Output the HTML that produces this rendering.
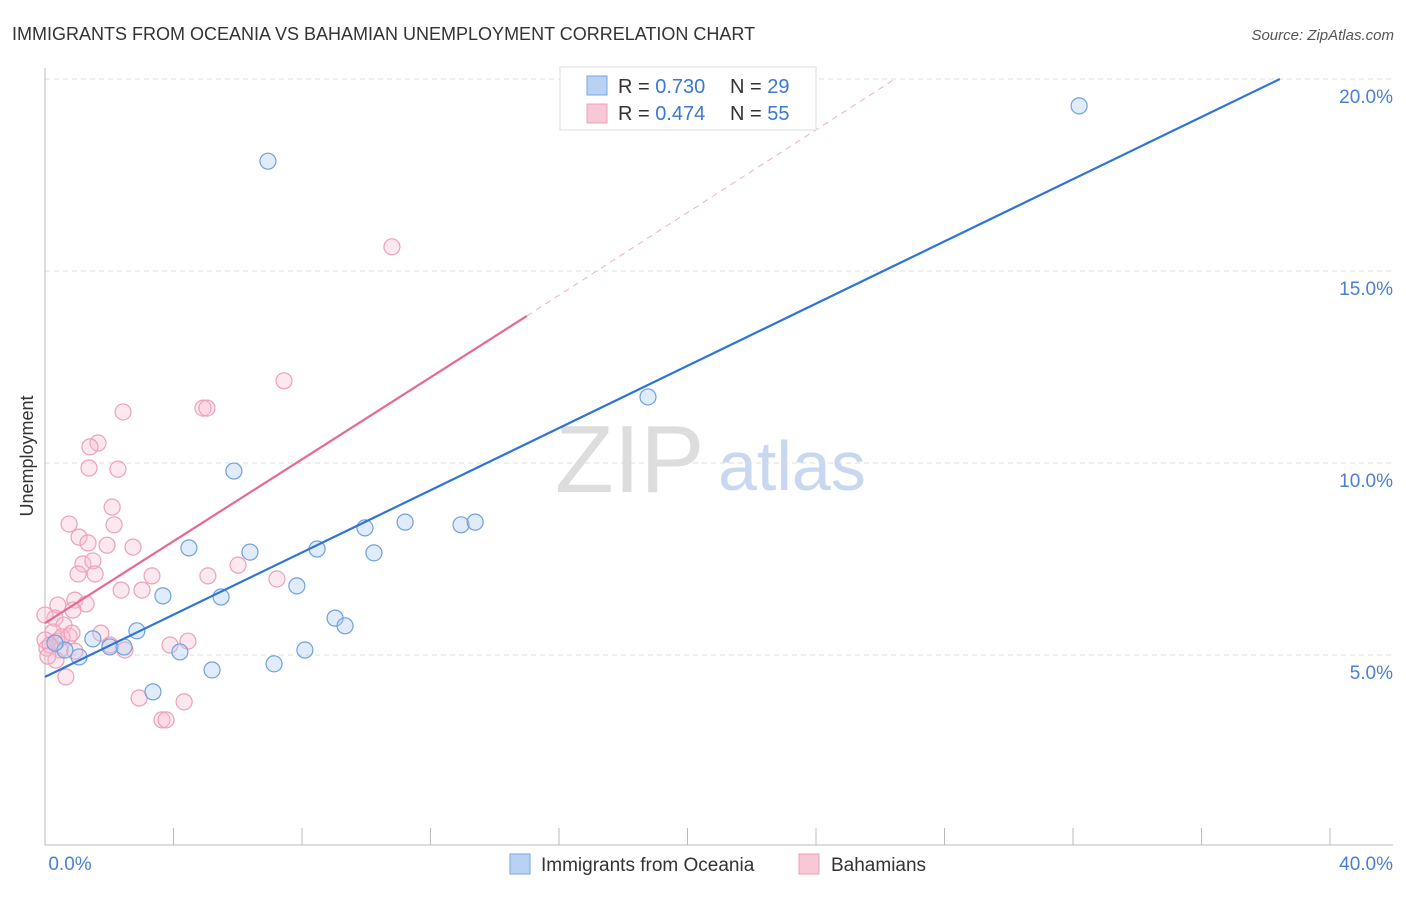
<!DOCTYPE html>
<html><head><meta charset="utf-8"><style>
body{margin:0;background:#fff;font-family:"Liberation Sans",sans-serif;}
svg text{font-family:"Liberation Sans",sans-serif;}
</style></head><body>
<svg id="chart" width="1406" height="892" xmlns="http://www.w3.org/2000/svg">
<text x="12" y="40" font-size="18" fill="#333">IMMIGRANTS FROM OCEANIA VS BAHAMIAN UNEMPLOYMENT CORRELATION CHART</text>
<text x="1394" y="40" font-size="15" fill="#555" font-style="italic" text-anchor="end">Source: ZipAtlas.com</text>
<text x="33" y="456" font-size="18" fill="#333" text-anchor="middle" transform="rotate(-90 33 456)">Unemployment</text>
<text x="555" y="492" font-size="96" fill="#ddd" font-family="Liberation Serif">ZIP</text>
<text x="718" y="490" font-size="70" fill="#c8d8f0">atlas</text>
<g id="grid"></g><g id="axes"></g><g id="pts"></g><g id="lines"></g>
<g>
<rect x="560" y="67" width="256" height="63" fill="#fff" stroke="#ddd"/>
<rect x="587" y="76" width="20" height="19" fill="#b8d2f4" stroke="#7aa6e0"/>
<rect x="587" y="104" width="20" height="19" fill="#f8c8d6" stroke="#eea0b8"/>
<text x="618" y="93" font-size="20" fill="#333">R = <tspan fill="#3a78d4">0.730</tspan></text>
<text x="730" y="93" font-size="20" fill="#333">N = <tspan fill="#3a78d4">29</tspan></text>
<text x="618" y="120" font-size="20" fill="#333">R = <tspan fill="#3a78d4">0.474</tspan></text>
<text x="730" y="120" font-size="20" fill="#333">N = <tspan fill="#3a78d4">55</tspan></text>
</g>
<g>
<rect x="510" y="854" width="20" height="20" fill="#b8d2f4" stroke="#7aa6e0"/>
<text x="541" y="871" font-size="19" fill="#333">Immigrants from Oceania</text>
<rect x="799" y="854" width="20" height="20" fill="#f8c8d6" stroke="#eea0b8"/>
<text x="831" y="871" font-size="19" fill="#333">Bahamians</text>
</g>
</svg>
<script>
const yTicks=[5,10,15,20];
const xTickLabels=["0.0%","40.0%"];
const blueX=[32.19,6.94,18.77,5.88,4.48,6.38,8.47,9.96,11.21,12.95,13.39,10.24,7.84,3.67,5.48,9.03,9.34,2.86,1.49,2.02,2.46,4.20,8.09,1.06,0.62,0.31,5.20,7.13,3.36];
const blueY=[19.30,17.86,11.72,9.79,7.79,7.68,7.76,8.31,8.46,8.39,8.46,7.66,6.80,6.54,6.51,5.96,5.76,5.63,5.42,5.21,5.21,5.08,5.13,4.95,5.13,5.31,4.61,4.77,4.04];
const pinkX=[10.80,7.44,2.43,4.92,5.04,1.65,1.40,1.37,2.27,2.09,0.75,2.15,1.06,1.34,1.93,2.74,1.18,1.49,1.03,1.56,3.33,5.07,6.01,7.22,2.37,3.02,0.93,1.28,0.40,0.87,0.31,0,0.59,0.25,0.75,0,1.74,0.37,0.06,0.47,2.02,2.49,3.89,4.45,0.93,0.34,0.65,2.93,4.33,3.64,3.77,0.16,0.53,0.09,0.84];
const pinkY=[15.63,12.14,11.33,11.43,11.43,10.52,10.42,9.87,9.84,8.85,8.41,8.39,8.07,7.92,7.86,7.81,7.37,7.45,7.11,7.11,7.06,7.06,7.34,6.98,6.69,6.69,6.43,6.33,6.30,6.17,5.96,6.04,5.78,5.60,5.49,5.39,5.57,5.36,5.18,5.13,5.26,5.13,5.26,5.36,5.10,4.87,4.43,3.88,3.78,3.31,3.31,5.26,5.47,4.97,5.57];
const blueLine=[[0,4.43],[38.44,20]];
const pinkLine=[[0,5.83],[15.0,13.83]];
const pinkDash=[[15.0,13.83],[26.46,20]];
const NS="http://www.w3.org/2000/svg";
const X=v=>45+v*32.125, Y=v=>847-v*38.4;
function mk(t,a,p){const e=document.createElementNS(NS,t);for(const k in a)e.setAttribute(k,a[k]);document.getElementById(p).appendChild(e);return e;}
yTicks.forEach(t=>{
 const l=mk('line',{x1:45,x2:1393,y1:Y(t),y2:Y(t),stroke:'#ddd','stroke-dasharray':'5,4'},'grid');
 
 
 const tx=mk('text',{x:1393,y:Y(t)+24,'font-size':19,fill:'#4a7fd4','text-anchor':'end'},'grid');
 tx.textContent=t.toFixed(1)+'%';
 
 
});
const xa=mk('line',{x1:45,x2:1393,y1:845,y2:845,stroke:'#bbb'},'axes');


const ya=mk('line',{x1:45,x2:45,y1:68,y2:845,stroke:'#bbb'},'axes');


for(let i=0;i<=10;i++){const t=mk('line',{x1:X(i*4),x2:X(i*4),y1:828,y2:845,stroke:'#bbb'},'axes');
 
 }
[[0,70,'start'],[40,1393,'end']].forEach((d,i)=>{const t=mk('text',{x:d[1]-(i?0:0),y:870,'font-size':19,fill:'#4a7fd4','text-anchor':i?'end':'middle'},'axes');t.textContent=xTickLabels[i];
 
 });
pinkX.forEach((v,i)=>{const c=mk('circle',{cx:X(v),cy:Y(pinkY[i]),r:8,fill:'rgba(248,190,210,0.35)',stroke:'#eea0b8','stroke-width':1.2},'pts');
 
 });
blueX.forEach((v,i)=>{const c=mk('circle',{cx:X(v),cy:Y(blueY[i]),r:8,fill:'rgba(170,200,240,0.35)',stroke:'#6fa0e0','stroke-width':1.2},'pts');
 
 });
const bl=mk('line',{x1:X(blueLine[0][0]),y1:Y(blueLine[0][1]),x2:X(blueLine[1][0]),y2:Y(blueLine[1][1]),stroke:'#2f74d6','stroke-width':2.2},'lines');


const pl=mk('line',{x1:X(pinkLine[0][0]),y1:Y(pinkLine[0][1]),x2:X(pinkLine[1][0]),y2:Y(pinkLine[1][1]),stroke:'#e86890','stroke-width':2.2},'lines');


const pd=mk('line',{x1:X(pinkDash[0][0]),y1:Y(pinkDash[0][1]),x2:X(pinkDash[1][0]),y2:Y(pinkDash[1][1]),stroke:'#eeb0c4','stroke-width':1,'stroke-dasharray':'6,5'},'lines');


</script>
</body></html>
